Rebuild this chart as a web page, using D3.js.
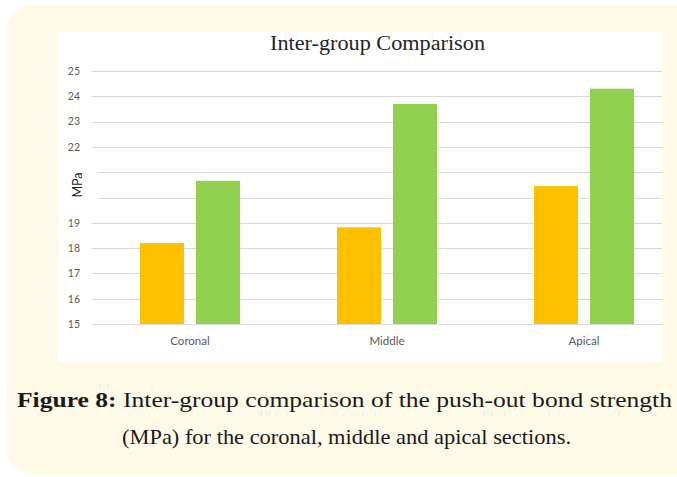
<!DOCTYPE html>
<html>
<head>
<meta charset="utf-8">
<script src="https://cdn.jsdelivr.net/npm/d3@7"></script>
<style>
  html, body { margin: 0; padding: 0; background: #ffffff; }
  svg { display: block; }
</style>
</head>
<body>
<div id="chart"></div>
<script>
// data
const categories = ['Coronal', 'Middle', 'Apical']
const seriesNames = ['groupA', 'groupB']
const groupA = [18.2, 18.82, 20.45]
const groupB = [20.66, 23.7, 24.3]
const yTicks = [15, 16, 17, 18, 19, 20, 21, 22, 23, 24, 25]
const chartTitle = 'Inter-group Comparison'
const yTitle = 'MPa'
const captionBold = 'Figure 8:'
const captionLine1 = ' Inter-group comparison of the push-out bond strength'
const captionLine2 = '(MPa) for the coronal, middle and apical sections.'

const colors = { groupA: '#ffc000', groupB: '#92d050' }
const rows = categories.map((c, i) => ({ cat: c, groupA: groupA[i], groupB: groupB[i] }))

const W = 677, H = 477
const svg = d3.select('#chart').append('svg')
  .attr('width', W)
  .attr('height', H)

// cream panel
svg.append('rect')
  .attr('x', 7).attr('y', 5)
  .attr('width', 700).attr('height', 470)
  .attr('rx', 26).attr('ry', 26)
  .attr('fill', '#fefae8')

// white chart area
svg.append('rect')
  .attr('x', 58).attr('y', 32)
  .attr('width', 604).attr('height', 330)
  .attr('fill', '#ffffff')

const y = d3.scaleLinear().domain([15, 25]).range([324, 71])
const x0 = d3.scaleBand().domain(categories).range([91.5, 682.5]).padding(0)
const x1 = d3.scaleBand().domain(seriesNames).range([48.5, 148.5]).paddingInner(12 / 56)

const g = svg.append('g')

// gridlines
g.append('g')
  .selectAll('line')
  .data(yTicks)
  .enter()
  .append('line')
  .attr('x1', 92)
  .attr('x2', 662)
  .attr('y1', d => Math.round(y(d)) + 0.5)
  .attr('y2', d => Math.round(y(d)) + 0.5)
  .attr('stroke', '#d9d9d9')
  .attr('stroke-width', 1)

// y axis labels
const yAxis = d3.axisLeft(y).tickValues(yTicks).tickSize(0).tickPadding(0)
const yg = g.append('g').attr('transform', 'translate(80,0)').call(yAxis)
yg.select('.domain').remove()
yg.selectAll('text')
  .attr('font-family', 'Lato, "Open Sans", sans-serif')
  .attr('font-size', 10.5)
  .attr('fill', '#595959')

// bars
const groups = g.append('g')
  .selectAll('g')
  .data(rows)
  .enter()
  .append('g')
  .attr('transform', d => 'translate(' + x0(d.cat) + ',0)')

groups.selectAll('rect')
  .data(d => seriesNames.map(k => ({ key: k, value: d[k] })))
  .enter()
  .append('rect')
  .attr('x', d => x1(d.key))
  .attr('y', d => y(d.value))
  .attr('width', x1.bandwidth())
  .attr('height', d => y(15) - y(d.value))
  .attr('fill', d => colors[d.key])

// x axis labels
const xAxis = d3.axisBottom(x0).tickSize(0).tickPadding(0)
const xg = g.append('g').attr('transform', 'translate(0,337)').call(xAxis)
xg.select('.domain').remove()
xg.selectAll('.tick text')
  .attr('x', x1.range()[0] + (x1.range()[1] - x1.range()[0]) / 2 - x0.bandwidth() / 2)
  .attr('font-family', 'Lato, "Open Sans", sans-serif')
  .attr('font-size', 11.5)
  .attr('fill', '#595959')

// axis title box covers the 20/21 labels like the original
svg.append('rect')
  .attr('x', 60).attr('y', 158)
  .attr('width', 38).attr('height', 52)
  .attr('fill', '#ffffff')

svg.append('text')
  .attr('transform', 'translate(82,185) rotate(-90)')
  .attr('text-anchor', 'middle')
  .attr('font-family', 'Lato, "Open Sans", sans-serif')
  .attr('font-size', 12.5)
  .attr('fill', '#1a1a1a')
  .text(yTitle)

// chart title
svg.append('text')
  .attr('x', 377.5)
  .attr('y', 50)
  .attr('text-anchor', 'middle')
  .attr('font-family', '"Liberation Serif", serif')
  .attr('font-size', 20)
  .attr('textLength', 215)
  .attr('lengthAdjust', 'spacingAndGlyphs')
  .attr('fill', '#262626')
  .text(chartTitle)

// caption
const cap = svg.append('g')
  .attr('font-family', '"Liberation Serif", serif')
  .attr('font-size', 22)
  .attr('fill', '#1a1a1a')
  .attr('text-anchor', 'middle')

const l1 = cap.append('text').attr('x', 344.5).attr('y', 407)
  .attr('textLength', 655)
  .attr('lengthAdjust', 'spacingAndGlyphs')
l1.append('tspan').attr('font-weight', 'bold').text(captionBold)
l1.append('tspan').text(captionLine1)
cap.append('text').attr('x', 346.5).attr('y', 444)
  .attr('textLength', 449)
  .attr('lengthAdjust', 'spacingAndGlyphs')
  .text(captionLine2)
</script>
</body>
</html>
